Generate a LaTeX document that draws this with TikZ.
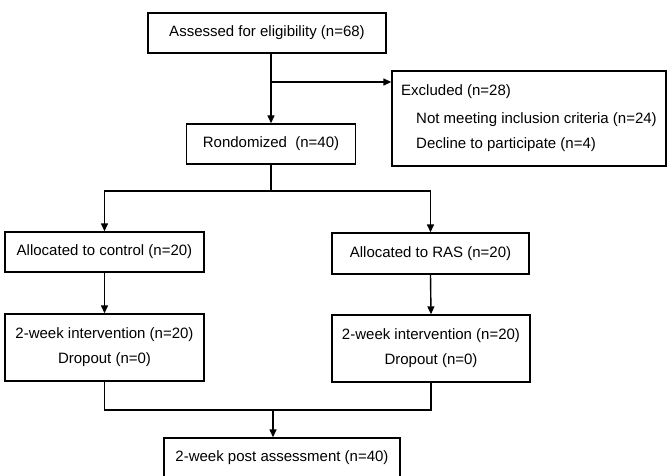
\documentclass[tikz,border=0pt]{standalone}
\usepackage{fontspec}
\setmainfont{Liberation Sans}
\usetikzlibrary{arrows.meta}

\begin{document}
\begin{tikzpicture}[x=1pt, y=-1pt,
    box/.style={draw, line width=1.4pt, minimum height=40pt, inner sep=0pt,
        font=\fontsize{15}{25}\selectfont},
    arr/.style={line width=1.4pt, -{Triangle[length=8pt, width=7pt]}},
    link/.style={line width=1.4pt}]
    \useasboundingbox (0, 0) rectangle (669, 476);

    % boxes
    \node[box, minimum width=238pt] (assess) at (267, 33) {Assessed for eligibility (n=68)};
    \node[box, minimum width=274pt, minimum height=95pt, align=left] (excl) at (529, 118.5)
        {Excluded (n=28)\\[3pt]
         \hspace*{15pt}Not meeting inclusion criteria (n=24)\\
         \hspace*{15pt}Decline to participate (n=4)};
    \node[box, minimum width=169pt] (rand) at (271, 144) {Rondomized\ \ (n=40)};

    \node[box, minimum width=199pt] (ctrl) at (104.5, 252) {Allocated to control (n=20)};
    \node[box, minimum width=197pt, minimum height=41pt] (ras) at (430.5, 253.5) {Allocated to RAS (n=20)};

    \node[box, minimum width=199pt, minimum height=67pt, align=center] (intc) at (104.5, 347.5)
        {2-week intervention (n=20)\\Dropout (n=0)};
    \node[box, minimum width=198pt, minimum height=67pt, align=center] (intr) at (431, 348.5)
        {2-week intervention (n=20)\\Dropout (n=0)};

    \node[box, minimum width=236pt] (post) at (282, 458) {2-week post assessment (n=40)};

    % connectors
    \coordinate (branch) at (271, 82);
    \coordinate (split) at (271, 191);
    \coordinate (merge) at (273, 410);
    \draw[arr] (assess.south -| rand.north) -- (rand.north);
    \draw[arr] (branch) -- (branch -| excl.west);
    \draw[link] (rand.south) -- (split);
    \draw[arr] (split) -| (ctrl.north);
    \draw[arr] (split) -| (ras.north);
    \draw[arr] (ctrl.south) -- (intc.north);
    \draw[arr] (ras.south) -- (intr.north);
    \draw[link] (intc.south) |- (merge) -| (intr.south);
    \draw[arr] (merge) -- (merge |- post.north);
\end{tikzpicture}
\end{document}
